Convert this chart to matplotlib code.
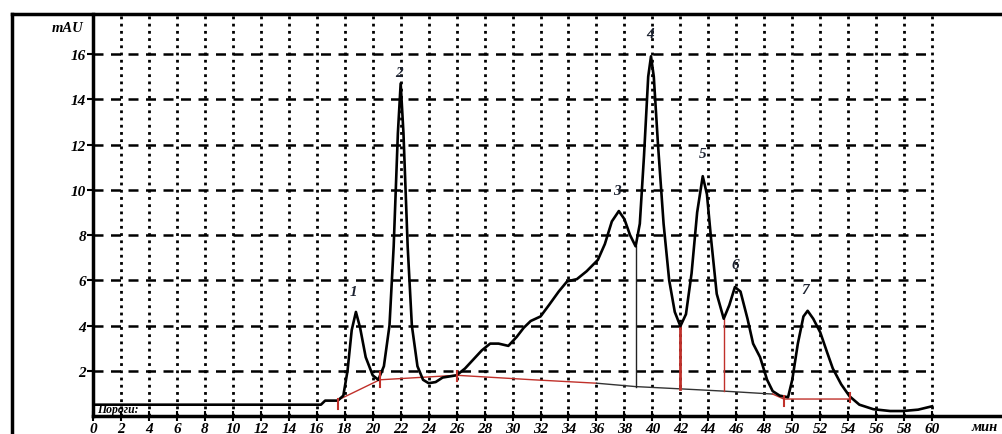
import matplotlib.pyplot as plt
from matplotlib.lines import Line2D

# chromatogram trace (min, mAU)
TIME = [0, 16.3, 16.6, 17.5, 17.9, 18.2, 18.5, 18.8, 19.1, 19.5, 20.0, 20.4,
        20.8, 21.2, 21.5, 21.8, 22.0, 22.2, 22.5, 22.8, 23.2, 23.6, 24.0, 24.5,
        25.0, 25.5, 26.0, 26.6, 27.2, 27.8, 28.4, 29.0, 29.7, 30.3, 30.8, 31.3,
        32.0, 32.6, 33.3, 33.9, 34.6, 35.3, 36.1, 36.6, 37.1, 37.6, 38.0, 38.4,
        38.8, 39.1, 39.4, 39.7, 39.9, 40.1, 40.4, 40.8, 41.2, 41.6, 42.0, 42.4,
        42.8, 43.2, 43.6, 43.9, 44.2, 44.6, 45.1, 45.5, 45.9, 46.3, 46.8, 47.2,
        47.7, 48.2, 48.6, 49.1, 49.7, 50.0, 50.4, 50.8, 51.1, 51.5, 52.0, 52.5,
        52.9, 53.5, 54.1, 54.8, 55.8, 57.0, 57.9, 59.0, 60.0]
SIGNAL = [0.5, 0.5, 0.68, 0.68, 0.9, 2.0, 3.8, 4.6, 3.9, 2.6, 1.8, 1.6,
          2.2, 4.0, 7.5, 12.5, 14.7, 12.5, 7.5, 4.0, 2.2, 1.6, 1.45, 1.5,
          1.7, 1.75, 1.8, 2.1, 2.5, 2.9, 3.2, 3.2, 3.1, 3.5, 3.9, 4.2,
          4.4, 4.9, 5.5, 5.95, 6.05, 6.4, 6.9, 7.6, 8.6, 9.06, 8.7, 8.0,
          7.5, 8.5, 11.5, 15.0, 15.9, 15.0, 12.0, 8.5, 6.0, 4.6, 3.97, 4.5,
          6.3, 9.0, 10.6, 9.8, 7.8, 5.4, 4.3, 4.9, 5.7, 5.5, 4.3, 3.2,
          2.6, 1.6, 1.1, 0.9, 0.83, 1.6, 3.2, 4.4, 4.65, 4.3, 3.7, 2.8,
          2.1, 1.4, 0.87, 0.5, 0.3, 0.22, 0.22, 0.28, 0.43]

# integration baseline
BASE1_X = [17.5, 20.5, 26.0, 31.5, 36.0]
BASE1_Y = [0.7, 1.6, 1.8, 1.6, 1.45]
BASE2_X = [36.0, 38.8, 42.0, 45.1, 48.6]
BASE2_Y = [1.45, 1.3, 1.2, 1.1, 0.97]
BASE3_X = [48.6, 49.4, 54.1]
BASE3_Y = [0.97, 0.75, 0.75]

# peak labels
PEAK_NAMES = ['1', '2', '3', '4', '5', '6', '7']
PEAK_X = [18.6, 21.9, 37.5, 39.8, 43.6, 45.9, 50.9]
PEAK_Y = [5.5, 15.2, 9.95, 16.9, 11.6, 6.7, 5.6]

YTICKS = [2, 4, 6, 8, 10, 12, 14, 16]
XTICKS = list(range(0, 61, 2))

serif = dict(family='Liberation Serif', style='italic', weight='bold')

fig = plt.figure(figsize=(10.03, 4.35), dpi=100)
ax = fig.add_axes([93 / 1003, 1 - 417 / 435, 1 - 93 / 1003, (417 - 15) / 435])
ax.set_xlim(0, 65.07)
ax.set_ylim(0, 17.77)

# GRID ----------------------------------------------
for y in YTICKS:
    ax.plot([0, 60], [y, y], color='black', lw=1.8, ls=(0, (4, 3)), zorder=1)
for x in XTICKS[1:]:
    ax.plot([x, x], [0, 17.77], color='black', lw=2.0, ls=(0, (1, 1.6)), zorder=1)
# ----------------------------------------------------

# SIGNAL AND BASELINE --------------------------------
ax.plot(TIME, SIGNAL, color='black', lw=1.9, zorder=3)
ax.plot(BASE1_X, BASE1_Y, color='#c0302a', lw=1.0, zorder=2)
ax.plot(BASE2_X, BASE2_Y, color='#333333', lw=1.0, zorder=2)
ax.plot(BASE3_X, BASE3_Y, color='#c0302a', lw=1.0, zorder=2)

ax.plot([38.8, 38.8], [1.3, 7.5], color='#222222', lw=1.0, zorder=2)
ax.plot([42.0, 42.0], [1.2, 3.97], color='#c0302a', lw=2.0, zorder=2)
ax.plot([45.1, 45.1], [1.1, 4.3], color='#c0302a', lw=1.0, zorder=2)
for tx, y0, y1 in [(17.5, 0.3, 0.75), (20.5, 1.3, 1.95), (26.0, 1.55, 2.0),
                   (49.4, 0.45, 0.9), (54.1, 0.6, 1.0)]:
    ax.plot([tx, tx], [y0, y1], color='#c0302a', lw=1.5, zorder=4)

for name, px, py in zip(PEAK_NAMES, PEAK_X, PEAK_Y):
    ax.text(px, py, name, ha='center', va='center', fontsize=11,
            color='#1c2230', **serif)
# ----------------------------------------------------

# AXES ------------------------------------------------
for side in ['right', 'top']:
    ax.spines[side].set_visible(False)
ax.spines['left'].set_linewidth(2.5)
ax.spines['bottom'].set_linewidth(2.5)
ax.set_yticks(YTICKS)
ax.set_yticklabels([str(v) for v in YTICKS], fontsize=11, **serif)
ax.set_xticks(XTICKS)
ax.set_xticklabels([str(v) for v in XTICKS], fontsize=11, **serif)
ax.tick_params(axis='y', direction='out', length=4, width=1.5, pad=1)
ax.tick_params(axis='x', direction='inout', length=7, width=1.5, pad=1)

ax.text(0.3, 0.05, 'Пороги:', ha='left', va='bottom', fontsize=8.5, **serif)
# ----------------------------------------------------

fig.text(83 / 1003, 1 - 29 / 435, 'mAU', ha='right', va='center', fontsize=10.5, **serif)
fig.text(972 / 1003, 1 - 421 / 435, 'мин', ha='left', va='top', fontsize=10.5, **serif)

# outer frame
fig.add_artist(Line2D([12 / 1003, 12 / 1003], [0, 1 - 15 / 435], color='black', lw=2.5))
fig.add_artist(Line2D([12 / 1003, 1], [1 - 15 / 435, 1 - 15 / 435], color='black', lw=2.5))

fig.savefig('out.png', dpi=100)
